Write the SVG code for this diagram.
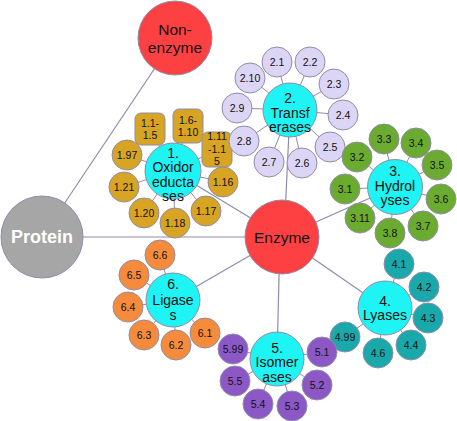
<svg xmlns="http://www.w3.org/2000/svg" width="457" height="421" viewBox="0 0 457 421">
<style>
.ln{stroke:#8f8caa;stroke-width:1.2;fill:none}
.sp{stroke:#8f8caa;stroke-width:1;fill:none}
.n{stroke:#8f8caa;stroke-width:1}
.cat{fill:#1ef4f4}
.t{font-family:"Liberation Sans",Arial,sans-serif;fill:#111;text-anchor:middle}
.c{font-size:14px}
.s{font-size:10.5px}
.ox{fill:#d8a424}.tr{fill:#ddd5f6}.hy{fill:#6bab2f}.ly{fill:#19a9aa}.is{fill:#8c58c6}.li{fill:#f68b3c}
</style>
<rect width="457" height="421" fill="#fff"/>
<g id="connectors">
<line class="ln" x1="42" y1="237" x2="175" y2="38"/>
<line class="ln" x1="42" y1="237" x2="282" y2="237"/>
<line class="ln" x1="282" y1="237" x2="173" y2="171"/>
<line class="ln" x1="284" y1="237" x2="290" y2="110"/>
<line class="ln" x1="282" y1="237" x2="395" y2="187"/>
<line class="ln" x1="282" y1="237" x2="385" y2="308"/>
<line class="ln" x1="280" y1="237" x2="277" y2="359"/>
<line class="ln" x1="282" y1="237" x2="173" y2="300"/>
<g class="sp">
<line x1="173" y1="171" x2="150" y2="129"/><line x1="173" y1="171" x2="188" y2="126"/><line x1="173" y1="171" x2="217" y2="150"/>
<line x1="173" y1="171" x2="127" y2="155"/><line x1="173" y1="171" x2="124" y2="187"/><line x1="173" y1="171" x2="144" y2="213"/>
<line x1="173" y1="171" x2="175" y2="223"/><line x1="173" y1="171" x2="206" y2="211"/><line x1="173" y1="171" x2="223" y2="182"/>
<line x1="290" y1="110" x2="277" y2="62"/><line x1="290" y1="110" x2="310" y2="62"/><line x1="290" y1="110" x2="334" y2="84"/>
<line x1="290" y1="110" x2="343" y2="115"/><line x1="290" y1="110" x2="330" y2="147"/><line x1="290" y1="110" x2="302" y2="163"/>
<line x1="290" y1="110" x2="269" y2="162"/><line x1="290" y1="110" x2="244" y2="141"/><line x1="290" y1="110" x2="237" y2="108"/>
<line x1="290" y1="110" x2="250" y2="78"/>
<line x1="395" y1="187" x2="384" y2="139"/><line x1="395" y1="187" x2="416" y2="143"/><line x1="395" y1="187" x2="437" y2="165"/>
<line x1="395" y1="187" x2="441" y2="199"/><line x1="395" y1="187" x2="423" y2="226"/><line x1="395" y1="187" x2="390" y2="233"/>
<line x1="395" y1="187" x2="360" y2="218"/><line x1="395" y1="187" x2="345" y2="189"/><line x1="395" y1="187" x2="357" y2="157"/>
<line x1="385" y1="308" x2="399" y2="264"/><line x1="385" y1="308" x2="424" y2="287"/><line x1="385" y1="308" x2="428" y2="318"/>
<line x1="385" y1="308" x2="411" y2="345"/><line x1="385" y1="308" x2="378" y2="353"/><line x1="385" y1="308" x2="345" y2="337"/>
<line x1="277" y1="359" x2="233" y2="349"/><line x1="277" y1="359" x2="235" y2="381"/><line x1="277" y1="359" x2="258" y2="404"/>
<line x1="277" y1="359" x2="292" y2="406"/><line x1="277" y1="359" x2="317" y2="385"/><line x1="277" y1="359" x2="322" y2="352"/>
<line x1="173" y1="300" x2="160" y2="255"/><line x1="173" y1="300" x2="134" y2="275"/><line x1="173" y1="300" x2="128" y2="307"/>
<line x1="173" y1="300" x2="144" y2="335"/><line x1="173" y1="300" x2="176" y2="345"/><line x1="173" y1="300" x2="205" y2="333"/>
</g>
</g>
<g id="protein"><circle class="n" cx="42" cy="237" r="41" fill="#a6a6a6"/><text class="t" x="42" y="243" style="font-size:18px;font-weight:bold;fill:#fff">Protein</text></g>
<g id="nonenzyme"><circle class="n" cx="175" cy="38" r="37" fill="#fd4143"/><text class="t" x="175" y="35" style="font-size:15.5px">Non-</text><text class="t" x="175" y="53" style="font-size:15.5px">enzyme</text></g>
<g id="enzyme"><circle class="n" cx="282" cy="237" r="37" fill="#fd4143"/><text class="t" x="282" y="243" style="font-size:15.5px">Enzyme</text></g>

<g id="ox">
<circle class="n cat" cx="173" cy="171" r="28"/>
<text class="t c" x="173" y="157.5">1.</text><text class="t c" x="173" y="172">Oxidor</text><text class="t c" x="173" y="186.5">educta</text><text class="t c" x="173" y="201">ses</text>
</g>
<g id="ox1"><rect class="n ox" x="135" y="113" width="30" height="32" rx="6"/><text class="t s" x="150" y="127">1.1-</text><text class="t s" x="150" y="139">1.5</text></g>
<g id="ox2"><rect class="n ox" x="173" y="109" width="30" height="34" rx="6"/><text class="t s" x="188" y="124">1.6-</text><text class="t s" x="188" y="136">1.10</text></g>
<g id="ox3"><rect class="n ox" x="202" y="132" width="30" height="35" rx="6"/><text class="t s" x="217" y="140">1.11</text><text class="t s" x="217" y="153">-1.1</text><text class="t s" x="217" y="165">5</text></g>
<g id="ox97"><circle class="n ox" cx="127" cy="155" r="15"/><text class="t s" x="127" y="159">1.97</text></g>
<g id="ox21"><circle class="n ox" cx="124" cy="187" r="15"/><text class="t s" x="124" y="191">1.21</text></g>
<g id="ox20"><circle class="n ox" cx="144" cy="213" r="15"/><text class="t s" x="144" y="217">1.20</text></g>
<g id="ox18"><circle class="n ox" cx="175" cy="223" r="15"/><text class="t s" x="175" y="227">1.18</text></g>
<g id="ox17"><circle class="n ox" cx="206" cy="211" r="15"/><text class="t s" x="206" y="215">1.17</text></g>
<g id="ox16"><circle class="n ox" cx="223" cy="182" r="15"/><text class="t s" x="223" y="186">1.16</text></g>

<g id="tr">
<circle class="n cat" cx="290" cy="110" r="27"/>
<text class="t c" x="290" y="103">2.</text><text class="t c" x="290" y="117.5">Transf</text><text class="t c" x="290" y="132">erases</text>
</g>
<g id="tr1"><circle class="n tr" cx="277" cy="62" r="15"/><text class="t s" x="277" y="66">2.1</text></g>
<g id="tr2"><circle class="n tr" cx="310" cy="62" r="15"/><text class="t s" x="310" y="66">2.2</text></g>
<g id="tr3"><circle class="n tr" cx="334" cy="84" r="15"/><text class="t s" x="334" y="88">2.3</text></g>
<g id="tr4"><circle class="n tr" cx="343" cy="115" r="15"/><text class="t s" x="343" y="119">2.4</text></g>
<g id="tr5"><circle class="n tr" cx="330" cy="147" r="15"/><text class="t s" x="330" y="151">2.5</text></g>
<g id="tr6"><circle class="n tr" cx="302" cy="163" r="15"/><text class="t s" x="302" y="167">2.6</text></g>
<g id="tr7"><circle class="n tr" cx="269" cy="162" r="15"/><text class="t s" x="269" y="166">2.7</text></g>
<g id="tr8"><circle class="n tr" cx="244" cy="141" r="15"/><text class="t s" x="244" y="145">2.8</text></g>
<g id="tr9"><circle class="n tr" cx="237" cy="108" r="15"/><text class="t s" x="237" y="112">2.9</text></g>
<g id="tr10"><circle class="n tr" cx="250" cy="78" r="15"/><text class="t s" x="250" y="82">2.10</text></g>

<g id="hy">
<circle class="n cat" cx="395" cy="187" r="27.5"/>
<text class="t c" x="395" y="176">3.</text><text class="t c" x="395" y="191">Hydrol</text><text class="t c" x="395" y="205">yses</text>
</g>
<g id="hy3"><circle class="n hy" cx="384" cy="139" r="15"/><text class="t s" x="384" y="143">3.3</text></g>
<g id="hy4"><circle class="n hy" cx="416" cy="143" r="15"/><text class="t s" x="416" y="147">3.4</text></g>
<g id="hy5"><circle class="n hy" cx="437" cy="165" r="15"/><text class="t s" x="437" y="169">3.5</text></g>
<g id="hy6"><circle class="n hy" cx="441" cy="199" r="15"/><text class="t s" x="441" y="203">3.6</text></g>
<g id="hy7"><circle class="n hy" cx="423" cy="226" r="15"/><text class="t s" x="423" y="230">3.7</text></g>
<g id="hy8"><circle class="n hy" cx="390" cy="233" r="15"/><text class="t s" x="390" y="237">3.8</text></g>
<g id="hy11"><circle class="n hy" cx="360" cy="218" r="15"/><text class="t s" x="360" y="222">3.11</text></g>
<g id="hy1"><circle class="n hy" cx="345" cy="189" r="15"/><text class="t s" x="345" y="193">3.1</text></g>
<g id="hy2"><circle class="n hy" cx="357" cy="157" r="15"/><text class="t s" x="357" y="161">3.2</text></g>

<g id="ly">
<circle class="n cat" cx="385" cy="308" r="27"/>
<text class="t c" x="385" y="306">4.</text><text class="t c" x="385" y="320">Lyases</text>
</g>
<g id="ly1"><circle class="n ly" cx="399" cy="264" r="15"/><text class="t s" x="399" y="268">4.1</text></g>
<g id="ly2"><circle class="n ly" cx="424" cy="287" r="15"/><text class="t s" x="424" y="291">4.2</text></g>
<g id="ly3"><circle class="n ly" cx="428" cy="318" r="15"/><text class="t s" x="428" y="322">4.3</text></g>
<g id="ly4"><circle class="n ly" cx="411" cy="345" r="15"/><text class="t s" x="411" y="349">4.4</text></g>
<g id="ly6"><circle class="n ly" cx="378" cy="353" r="15"/><text class="t s" x="378" y="357">4.6</text></g>
<g id="ly99"><circle class="n ly" cx="345" cy="337" r="15"/><text class="t s" x="345" y="341">4.99</text></g>

<g id="is">
<circle class="n cat" cx="277" cy="359" r="27"/>
<text class="t c" x="277" y="353">5.</text><text class="t c" x="277" y="367">Isomer</text><text class="t c" x="277" y="382">ases</text>
</g>
<g id="is99"><circle class="n is" cx="233" cy="349" r="15"/><text class="t s" x="233" y="353">5.99</text></g>
<g id="is5"><circle class="n is" cx="235" cy="381" r="15"/><text class="t s" x="235" y="385">5.5</text></g>
<g id="is4"><circle class="n is" cx="258" cy="404" r="15"/><text class="t s" x="258" y="408">5.4</text></g>
<g id="is3"><circle class="n is" cx="292" cy="406" r="15"/><text class="t s" x="292" y="410">5.3</text></g>
<g id="is2"><circle class="n is" cx="317" cy="385" r="15"/><text class="t s" x="317" y="389">5.2</text></g>
<g id="is1"><circle class="n is" cx="322" cy="352" r="15"/><text class="t s" x="322" y="356">5.1</text></g>

<g id="li">
<circle class="n cat" cx="173" cy="300" r="27"/>
<text class="t c" x="173" y="289">6.</text><text class="t c" x="173" y="305">Ligase</text><text class="t c" x="173" y="320">s</text>
</g>
<g id="li6"><circle class="n li" cx="160" cy="255" r="15"/><text class="t s" x="160" y="259">6.6</text></g>
<g id="li5"><circle class="n li" cx="134" cy="275" r="15"/><text class="t s" x="134" y="279">6.5</text></g>
<g id="li4"><circle class="n li" cx="128" cy="307" r="15"/><text class="t s" x="128" y="311">6.4</text></g>
<g id="li3"><circle class="n li" cx="144" cy="335" r="15"/><text class="t s" x="144" y="339">6.3</text></g>
<g id="li2"><circle class="n li" cx="176" cy="345" r="15"/><text class="t s" x="176" y="349">6.2</text></g>
<g id="li1"><circle class="n li" cx="205" cy="333" r="15"/><text class="t s" x="205" y="337">6.1</text></g>
</svg>
